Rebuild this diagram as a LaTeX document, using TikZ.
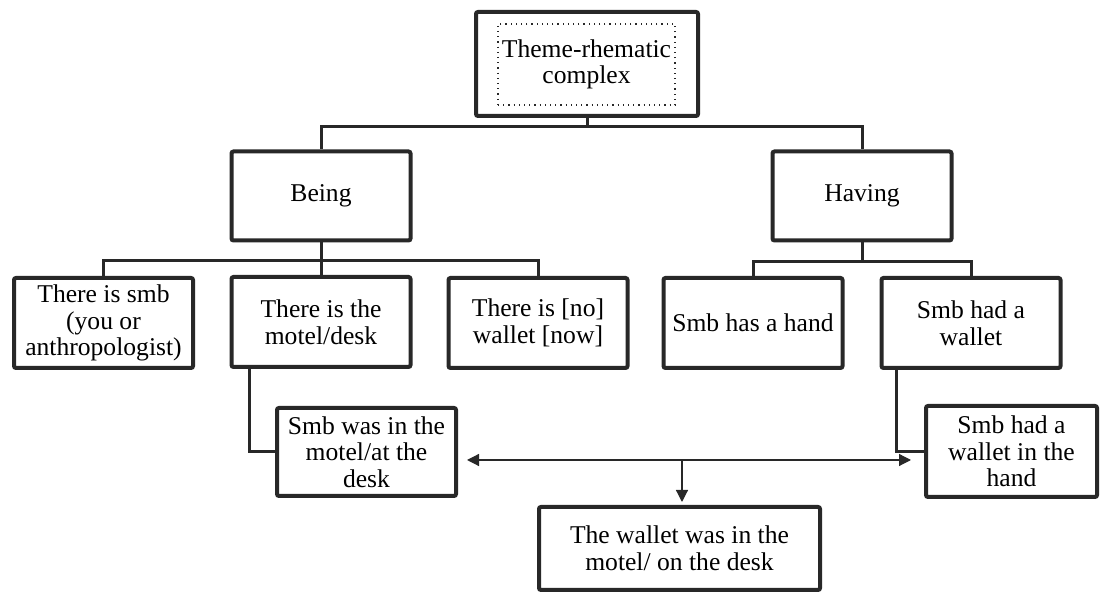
\documentclass[tikz,border=0pt]{standalone}
\usepackage{fontspec}
\setmainfont{Liberation Serif}
\usetikzlibrary{arrows.meta}
\definecolor{ink}{RGB}{40,40,40}
\begin{document}
\begin{tikzpicture}[x=0.5pt, y=-0.5pt, font=\fontsize{12.8}{13.3}\selectfont,
    box/.style={draw=ink, line width=2pt, rounded corners=1pt, align=center, inner sep=0pt, minimum width=89.5pt, minimum height=45pt},
    link/.style={draw=ink, line width=1.5pt},
    arr/.style={draw=ink, line width=0.6pt, -{Triangle[length=6pt,width=6pt]}}]
    \useasboundingbox (0,0) rectangle (1100,592);
    \node[box, minimum width=111pt, minimum height=52pt] (top) at (587,64) {};
    \node[draw=ink, dotted, line width=0.6pt, align=center, inner sep=0pt, minimum width=88.5pt, minimum height=40.5pt] (topin) at (586.5,64.5) {Theme-rhematic\\complex};
    \node[box, minimum height=44.5pt] (being) at (321,196) {Being};
    \node[box, minimum height=44.5pt] (having) at (862,196) {Having};
    \node[box] (smb) at (103.5,323) {There is smb\\(you or\\anthropologist)};
    \node[box] (motel) at (321,322) {There is the\\motel/desk};
    \node[box] (nowallet) at (538,323) {There is [no]\\wallet [now]};
    \node[box] (hand) at (753,323) {Smb has a hand};
    \node[box] (hadwallet) at (971,323) {Smb had a\\wallet};
    \node[box, minimum height=44pt] (wasin) at (366.5,452) {Smb was in the\\motel/at the\\desk};
    \node[box, minimum width=85.5pt, minimum height=45.5pt] (inhand) at (1011.5,451.5) {Smb had a\\wallet in the\\hand};
    \node[box, minimum width=140.5pt, minimum height=41.5pt] (ondesk) at (679.5,548.5) {The wallet was in the\\motel/ on the desk};
    \coordinate (topbus) at (587,127);
    \coordinate (beingbus) at (321,261);
    \coordinate (havingbus) at (862,262);
    \coordinate (split) at (682,460);
    \draw[link] (top.south) -- (topbus);
    \draw[link] (topbus) -| (being.north);
    \draw[link] (topbus) -| (having.north);
    \draw[link] (being.south) -- (beingbus);
    \draw[link] (beingbus) -| (smb.north);
    \draw[link] (beingbus) -- (motel.north);
    \draw[link] (beingbus) -| (nowallet.north);
    \draw[link] (having.south) -- (havingbus);
    \draw[link] (havingbus) -| (hand.north);
    \draw[link] (havingbus) -| (hadwallet.north);
    \draw[link] ([xshift=10pt]motel.south west) |- (wasin.west);
    \draw[link] ([xshift=8.25pt]hadwallet.south west) |- (inhand.west);
    \draw[arr, {Triangle[length=6pt,width=6pt]}-{Triangle[length=6pt,width=6pt]}, shorten <=4.5pt, shorten >=6.5pt] (wasin.east |- split) -- (inhand.west |- split);
    \draw[arr, shorten >=1.5pt] (split) -- (split |- ondesk.north);
\end{tikzpicture}
\end{document}
